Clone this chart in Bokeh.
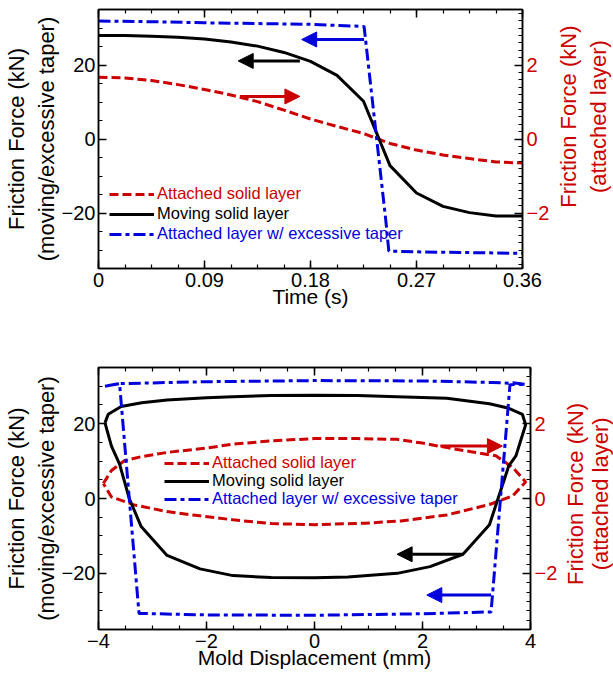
import math
from bokeh.plotting import figure
from bokeh.models import (Range1d, LinearAxis, SingleIntervalTicker, Legend, LegendItem,
                          Arrow, NormalHead, NumeralTickFormatter)
from bokeh.layouts import column, row
from bokeh.core.properties import value
from bokeh.embed import file_html
from bokeh.resources import INLINE

FONT = "Liberation Sans"
RED = "#CC0000"
BLUE = "#0000DD"
BLACK = "#000000"

# ---------------- data: top panel (time history) ----------------
time_s = [0, 0.0225, 0.045, 0.0675, 0.09, 0.1125, 0.135, 0.1575, 0.18,
          0.2025, 0.225, 0.2475, 0.27, 0.2925, 0.315, 0.3375, 0.36]
moving_t = [28.0, 28.0, 27.8, 27.5, 27.0, 26.2, 25.1, 23.4, 21.0,
            17.2, 10.2, -7.2, -14.6, -18.2, -19.9, -20.8, -20.8]
attached_t = [1.67, 1.65, 1.58, 1.47, 1.34, 1.19, 1.01, 0.78, 0.54,
              0.34, 0.15, -0.12, -0.30, -0.43, -0.53, -0.62, -0.65]
time_exc = [0, 0.045, 0.09, 0.135, 0.18, 0.2255, 0.244, 0.2465, 0.27, 0.315, 0.36]
excessive_t = [31.9, 31.7, 31.4, 31.2, 31.0, 30.4, -22.2, -30.3, -30.5, -30.7, -30.9]

# ---------------- data: bottom panel (displacement loops) ----------------
disp_att = [-3.91, -3.76, -3.52, -3.2, -2.73, -2.0, -1.51, -0.8, 0.0, 0.8, 1.53, 2.0,
            2.45, 2.9, 3.36, 3.67, 3.91, 3.67, 3.24, 2.45, 1.6, 0.93, 0.0, -0.8,
            -1.51, -2.2, -2.73, -3.34, -3.76, -3.91]
attached_d = [0.40, 0.75, 1.01, 1.12, 1.23, 1.35, 1.45, 1.54, 1.60, 1.60, 1.58, 1.48,
              1.36, 1.25, 1.14, 0.83, 0.44, 0.07, -0.16, -0.44, -0.60, -0.66, -0.70, -0.67,
              -0.57, -0.45, -0.35, -0.17, 0.04, 0.40]
disp_mov = [-3.88, -3.82, -3.58, -3.2, -2.73, -2.0, -1.51, -0.8, 0.0, 0.8, 1.53, 2.45,
            3.24, 3.6, 3.85, 3.91, 3.73, 3.6, 3.39, 3.24, 2.75, 2.14, 1.53, 0.62, 0.0,
            -0.8, -1.51, -2.12, -2.73, -3.21, -3.43, -3.61, -3.76, -3.88]
moving_d = [20.2, 22.5, 24.6, 25.6, 26.3, 26.9, 27.2, 27.5, 27.6, 27.5, 27.2, 26.8,
            25.3, 24.1, 22.5, 19.7, 11.4, 8.8, -0.4, -7.0, -14.9, -18.2, -20.0, -21.0, -21.2,
            -21.1, -20.6, -18.8, -15.2, -7.5, 0.0, 9.2, 14.0, 20.2]
disp_exc = [-3.88, -3.61, -2.0, 0.0, 2.0, 3.3, 3.6, 3.67, 3.91, 3.62, 3.27, 2.0, 0.0,
            -2.0, -3.25, -3.61, -3.88]
excessive_d = [30.0, 30.7, 31.2, 31.5, 31.4, 31.0, 30.8, 30.9, 30.5, 30.4, -30.3, -30.8,
               -31.2, -31.1, -30.7, 30.7, 30.0]

legend_labels = ["Attached solid layer", "Moving solid layer",
                 "Attached layer w/ excessive taper"]
left_label = "Friction Force (kN)\n(moving/excessive taper)"
right_label = "Friction Force (kN)\n(attached layer)"

# arrow annotations (x_start, x_end, y, axis)
arrows_top = [(0.171, 0.1186, 21.1, "default", BLACK),
              (0.120, 0.171, 1.15, "att", RED),
              (0.2255, 0.1725, 26.9, "default", BLUE)]
arrows_bot = [(2.33, 3.48, 1.4, "att", RED),
              (2.75, 1.53, -14.9, "default", BLACK),
              (3.27, 2.08, -25.8, "default", BLUE)]


def style_axis(ax, color=BLACK, tick_fs="20px", label_fs="22px"):
    ax.major_label_text_font = FONT
    ax.major_label_text_font_size = tick_fs
    ax.major_label_text_color = color
    ax.axis_label_text_font = FONT
    ax.axis_label_text_font_size = label_fs
    ax.axis_label_text_font_style = "normal"
    ax.axis_label_text_color = color
    ax.major_tick_in = 8
    ax.major_tick_out = 0
    ax.minor_tick_in = 4
    ax.minor_tick_out = 0
    ax.axis_line_color = BLACK
    ax.axis_line_width = 1.5
    ax.major_tick_line_width = 1.5
    ax.minor_tick_line_width = 1.2
    ax.major_tick_line_color = BLACK
    ax.minor_tick_line_color = BLACK


def add_legend(p, renderer, label, color, x, y, fs):
    lg = Legend(items=[LegendItem(label=value(label), renderers=[renderer])],
                location=(x, y), label_text_color=color, label_text_font=FONT,
                label_text_font_size=fs, glyph_width=45, glyph_height=16,
                label_height=16, label_standoff=3, padding=0, margin=0, spacing=0,
                border_line_color=None, background_fill_alpha=0)
    p.add_layout(lg)


def add_arrows(p, arrows):
    for x0, x1, y, rng, col in arrows:
        p.add_layout(Arrow(end=NormalHead(size=15, fill_color=col, line_color=col, line_width=1),
                           x_start=x0, x_end=x1, y_start=y, y_end=y, y_range_name=rng,
                           line_color=col, line_width=3))


def make_fig(width, height, xr, border, xtick, xminor, rminor, xlabel, xfmt=None):
    p = figure(width=width, height=height, x_range=xr, y_range=Range1d(-35, 35),
               output_backend="svg", toolbar_location=None,
               min_border_left=border[0], min_border_right=border[1],
               min_border_top=border[2], min_border_bottom=border[3])
    p.xgrid.visible = False
    p.ygrid.visible = False
    p.outline_line_color = BLACK
    p.outline_line_width = 1.5
    p.background_fill_color = "white"
    p.border_fill_color = "white"
    p.extra_y_ranges = {"att": Range1d(-3.5, 3.5)}

    xa = p.below[0]
    xa.ticker = SingleIntervalTicker(interval=xtick, num_minor_ticks=xminor)
    if xfmt is not None:
        xa.formatter = xfmt
    style_axis(xa, label_fs="21px")
    xa.axis_label = xlabel
    xa.major_label_standoff = 4
    xa.axis_label_standoff = -5

    ya = p.left[0]
    ya.ticker = SingleIntervalTicker(interval=20, num_minor_ticks=4)
    style_axis(ya)
    ya.axis_label = left_label
    ya.major_label_standoff = 3
    ya.axis_label_standoff = 0

    ra = LinearAxis(y_range_name="att",
                    ticker=SingleIntervalTicker(interval=2, num_minor_ticks=rminor))
    style_axis(ra, color=RED)
    ra.major_label_standoff = 4
    p.add_layout(ra, "right")

    ta = LinearAxis(ticker=SingleIntervalTicker(interval=xtick, num_minor_ticks=xminor))
    style_axis(ta)
    ta.major_label_text_font_size = "1px"
    ta.major_label_text_color = None
    ta.major_label_standoff = 0
    p.add_layout(ta, "above")
    return p


def side_title(width, height, cx, cy, line_h):
    """Narrow panel holding the right-hand axis title, reading bottom-to-top."""
    s = figure(width=width, height=height, x_range=Range1d(0, width),
               y_range=Range1d(0, height), output_backend="svg", toolbar_location=None,
               x_axis_location=None, y_axis_location=None, min_border=0)
    s.xgrid.visible = False
    s.ygrid.visible = False
    s.outline_line_color = None
    s.background_fill_color = "white"
    s.border_fill_color = "white"
    s.text(x=[cx], y=[cy], text=[right_label], angle=math.pi / 2, text_align="center",
           text_baseline="middle", text_font=value(FONT), text_font_size="22px",
           text_color=RED, text_line_height=line_h)
    return s


# ---------------- top panel ----------------
p1 = make_fig(552, 335, Range1d(0, 0.36), (96, 26, 9, 67), 0.09, 4, 10, "Time (s)",
              NumeralTickFormatter(format="0.[00]"))
r_att1 = p1.line(time_s, attached_t, y_range_name="att", line_color=RED, line_width=3,
                 line_dash="9 4")
r_mov1 = p1.line(time_s, moving_t, line_color=BLACK, line_width=3)
r_exc1 = p1.line(time_exc, excessive_t, line_color=BLUE, line_width=3, line_dash="12 4 4 4")
add_arrows(p1, arrows_top)
add_legend(p1, r_att1, legend_labels[0], RED, 11, 65, "16.5px")
add_legend(p1, r_mov1, legend_labels[1], BLACK, 11, 45, "16.5px")
add_legend(p1, r_exc1, legend_labels[2], BLUE, 11, 25, "16.5px")
s1 = side_title(61, 335, 31, 196.5, 1.18)

# ---------------- bottom panel ----------------
p2 = make_fig(560, 340, Range1d(-4, 4), (97, 25, 32, 46), 2, 4, 8, "Mold Displacement (mm)")
r_att2 = p2.line(disp_att, attached_d, y_range_name="att", line_color=RED, line_width=3,
                 line_dash="9 4")
r_mov2 = p2.line(disp_mov, moving_d, line_color=BLACK, line_width=3)
r_exc2 = p2.line(disp_exc, excessive_d, line_color=BLUE, line_width=3, line_dash="12 4 4 4")
add_arrows(p2, arrows_bot)
add_legend(p2, r_att2, legend_labels[0], RED, 66, 157, "16.5px")
add_legend(p2, r_mov2, legend_labels[1], BLACK, 66, 139, "16.5px")
add_legend(p2, r_exc2, legend_labels[2], BLUE, 66, 121, "16.5px")
s2 = side_title(53, 340, 27.5, 176, 1.0)

layout = column(row(p1, s1, spacing=0), row(p2, s2, spacing=0), spacing=0)
open("out.html", "w").write(file_html(layout, INLINE))
